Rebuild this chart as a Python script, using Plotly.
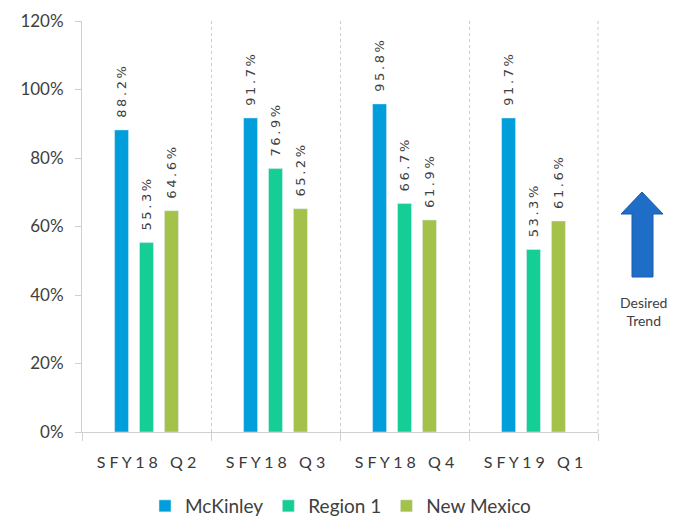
import plotly.graph_objects as go

categories = ["SFY18 Q2", "SFY18 Q3", "SFY18 Q4", "SFY19 Q1"]
mckinley = [0.882, 0.917, 0.958, 0.917]
region1 = [0.553, 0.769, 0.667, 0.533]
new_mexico = [0.646, 0.652, 0.619, 0.616]
y_ticks = [0, 0.2, 0.4, 0.6, 0.8, 1.0, 1.2]

series = [
    ("McKinley", mckinley, "rgb(0,158,219)"),
    ("Region 1", region1, "rgb(20,206,150)"),
    ("New Mexico", new_mexico, "rgb(164,193,73)"),
]

def spaced(s, sep=" "):
    return sep.join(list(s))

cat_labels = [spaced(c) for c in categories]

FONT = "Lato, 'Liberation Sans', sans-serif"
TXT = "#404040"

fig = go.Figure()
for name, vals, color in series:
    fig.add_trace(go.Bar(
        name=name, x=cat_labels, y=vals, marker_color=color,
        text=["\u2002\u2009" + spaced(f"{v*100:.1f}%", "\u2009") for v in vals],
        textposition="outside", textangle=-90, constraintext="none",
        textfont=dict(family="'DejaVu Sans', sans-serif", size=13, color=TXT),
        cliponaxis=False,
    ))

# page offset (body margin 8px)
OFF = 8
W, H = 684 - OFF, 520 - OFF
L, R, T, B = 82, 598, 21, 432
def px(x):
    return (x - L) / (R - L)
def py(y):
    return (B - y) / (B - T)

arrow = [(642, 192), (663, 214), (653, 214), (653, 277), (632, 277), (632, 214), (621, 214)]
path = "M " + " L ".join(f"{px(x):.4f},{py(y):.4f}" for x, y in arrow) + " Z"

fig.update_layout(
    width=W, height=H,
    margin=dict(l=L - OFF, r=684 - R, t=T - OFF, b=520 - B, autoexpand=False),
    paper_bgcolor="white", plot_bgcolor="white",
    barmode="group", bargap=0.42, bargroupgap=0.44,
    font=dict(family=FONT, color=TXT, size=14),
    showlegend=True,
    legend=dict(orientation="h", xref="container", yref="container",
                x=(145 - OFF) / W, xanchor="left",
                y=1 - (506 - OFF) / H, yanchor="middle",
                font=dict(size=19, color=TXT), itemwidth=30, traceorder="normal"),
    xaxis=dict(
        type="category", range=[-0.5, 3.5], tickson="boundaries",
        showgrid=True, gridcolor="#cccccc", griddash="dot", gridwidth=1,
        showline=True, linecolor="#d0d0d0", linewidth=1,
        ticks="outside", ticklen=8, tickcolor="#d0d0d0",
        tickfont=dict(size=16, color="#383838"), ticklabelstandoff=16,
    ),
    yaxis=dict(
        range=[0, 1.2], tickvals=y_ticks, tickformat=".0%",
        showgrid=False, zeroline=False,
        showline=True, linecolor="#d0d0d0", linewidth=1,
        ticks="outside", ticklen=6, tickcolor="#d0d0d0",
        tickfont=dict(size=17, color=TXT), ticklabelstandoff=8,
    ),
    shapes=[
        dict(type="line", xref="paper", yref="paper", x0=1, x1=1, y0=0, y1=1,
             line=dict(color="#cccccc", width=1, dash="dot")),
        dict(type="path", xref="paper", yref="paper", path=path,
             fillcolor="rgb(30,110,200)", line=dict(color="rgb(25,90,170)", width=1)),
    ],
    annotations=[dict(xref="paper", yref="paper", x=px(643), y=py(311),
                      xanchor="center", yanchor="middle",
                      text="Desired<br>Trend", showarrow=False,
                      font=dict(size=14, color=TXT), align="center")],
)

fig.write_html("out.html")
